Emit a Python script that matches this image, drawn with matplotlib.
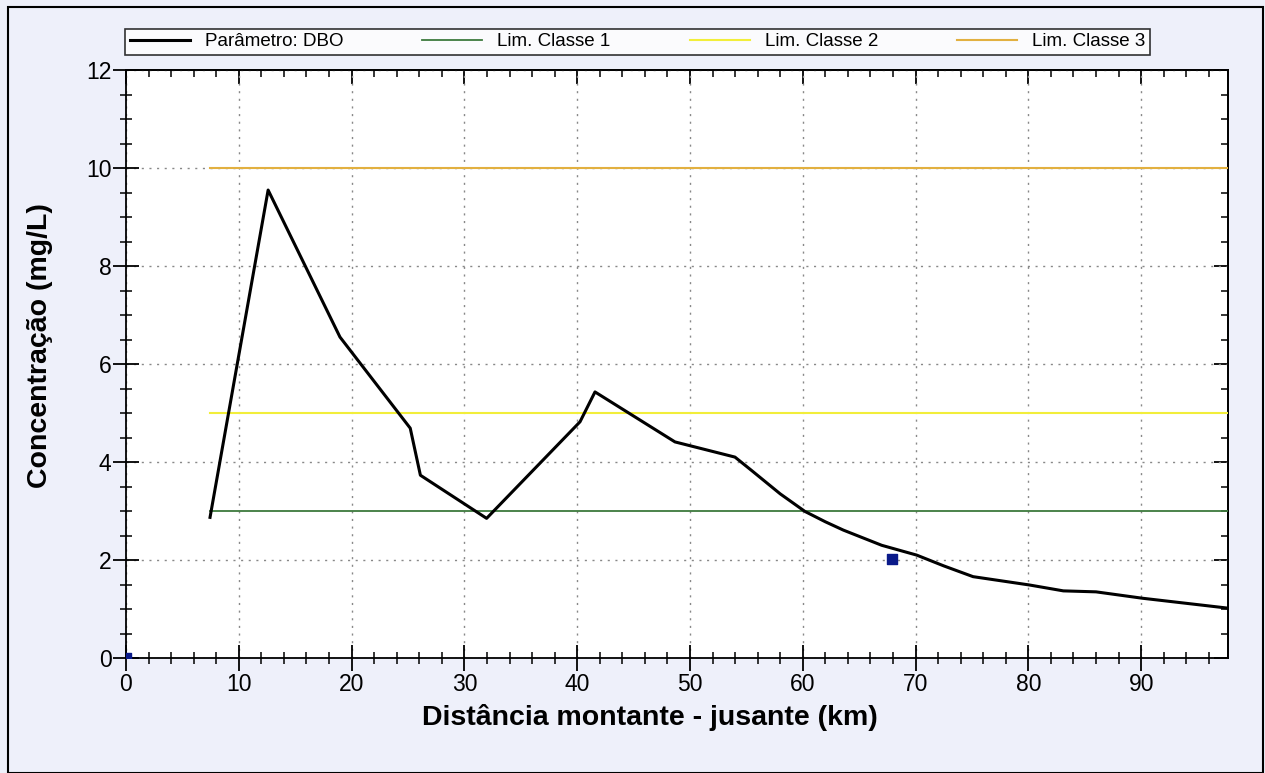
import matplotlib
matplotlib.use("Agg")
import matplotlib.pyplot as plt
from matplotlib.ticker import MultipleLocator

# Data
dist_km = [7.45, 12.6, 18.97, 25.2, 26.1, 31.97, 40.25, 41.58, 48.67, 53.99,
           55.5, 58.0, 60.2, 62.0, 63.6, 67.0, 70.1, 72.5, 75.1, 80.1,
           83.1, 86.0, 90.1, 97.6]
dbo = [2.87, 9.55, 6.55, 4.69, 3.73, 2.85, 4.82, 5.43, 4.41, 4.10,
       3.82, 3.35, 2.99, 2.78, 2.61, 2.30, 2.10, 1.88, 1.66, 1.49,
       1.37, 1.35, 1.22, 1.02]
obs_x = [0.0, 67.9]
obs_y = [0.0, 2.02]
lim_x = [7.45, 97.7]
lim_classe1 = 3
lim_classe2 = 5
lim_classe3 = 10

plt.rcParams['font.family'] = ['Liberation Sans', 'DejaVu Sans']

fig = plt.figure(figsize=(12.65, 7.73), dpi=100, facecolor='#eef0fa')
ax = fig.add_axes([126/1265, 1-658/773, (1228-126)/1265, (658-70)/773])
ax.set_facecolor('white')

l0, = ax.plot(dist_km, dbo, color='black', lw=2.2, label='Parâmetro: DBO', zorder=5)
l1, = ax.plot(lim_x, [lim_classe1]*2, color='#3d7a3d', lw=1.3, label='Lim. Classe 1', zorder=4)
l2, = ax.plot(lim_x, [lim_classe2]*2, color='#f2ee3a', lw=1.5, label='Lim. Classe 2', zorder=4)
l3, = ax.plot(lim_x, [lim_classe3]*2, color='#e2b040', lw=1.5, label='Lim. Classe 3', zorder=4)
ax.scatter(obs_x, obs_y, s=45, marker='s', color='#0a1a8a', zorder=6, clip_on=True)

ax.set_xlim(0, 97.7)
ax.set_ylim(0, 12)
ax.xaxis.set_major_locator(MultipleLocator(10))
ax.xaxis.set_minor_locator(MultipleLocator(2))
ax.yaxis.set_major_locator(MultipleLocator(2))
ax.yaxis.set_minor_locator(MultipleLocator(0.5))
ax.grid(True, which='major', color='#888888', linestyle=(0, (1.5, 4)), lw=1.0)

ax.tick_params(axis='both', which='major', direction='inout', length=19, width=1.3,
               labelsize=16.5, pad=1)
ax.tick_params(axis='both', which='minor', direction='inout', length=9, width=1.1)
for sp in ax.spines.values():
    sp.set_linewidth(1.3)

# inward ticks on top and right
top = ax.secondary_xaxis('top')
top.xaxis.set_major_locator(MultipleLocator(10))
top.xaxis.set_minor_locator(MultipleLocator(2))
top.tick_params(which='major', direction='in', length=10, width=1.3, labeltop=False)
top.tick_params(which='minor', direction='in', length=5, width=1.1)
right = ax.secondary_yaxis('right')
right.yaxis.set_major_locator(MultipleLocator(2))
right.yaxis.set_minor_locator(MultipleLocator(0.5))
right.tick_params(which='major', direction='in', length=10, width=1.3, labelright=False)
right.tick_params(which='minor', direction='in', length=5, width=1.1)
for s in (top, right):
    for sp in s.spines.values():
        sp.set_linewidth(1.3)

ax.set_xlabel('Distância montante - jusante (km)', fontsize=20.5, fontweight='bold', va='center')
ax.xaxis.set_label_coords(0.4755, -0.102)
ax.set_ylabel('Concentração (mg/L)', fontsize=20.5, fontweight='bold', va='center')
ax.yaxis.set_label_coords(-0.078, 0.532)

leg = fig.legend(handles=[l0, l1, l2, l3], loc='lower left',
                 bbox_to_anchor=(125/1265, 1-55/773, (1150-125)/1265, 28/773),
                 ncol=4, mode='expand', frameon=True, fancybox=False,
                 edgecolor='black', fontsize=13.5, handlelength=3.2,
                 borderaxespad=0, borderpad=0.25, handletextpad=0.8)
leg.get_frame().set_linewidth(1.2)
leg.get_frame().set_facecolor('white')

# figure border
fig.patches.append(plt.Rectangle((8/1265, 0), (1263-8)/1265, 1-7/773,
                                 transform=fig.transFigure, fill=False,
                                 edgecolor='black', lw=1.5))

fig.savefig('out.png', dpi=100, facecolor=fig.get_facecolor())
